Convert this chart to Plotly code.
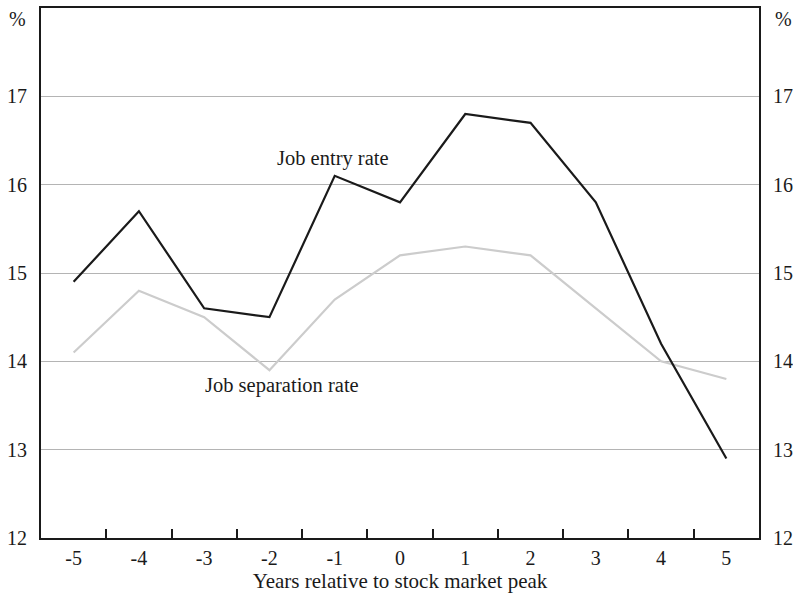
import plotly.graph_objects as go

years = ["-5", "-4", "-3", "-2", "-1", "0", "1", "2", "3", "4", "5"]
job_entry = [14.9, 15.7, 14.6, 14.5, 16.1, 15.8, 16.8, 16.7, 15.8, 14.2, 12.9]
job_separation = [14.1, 14.8, 14.5, 13.9, 14.7, 15.2, 15.3, 15.2, 14.6, 14.0, 13.8]
y_ticks = [12, 13, 14, 15, 16, 17]

FONT = "Liberation Serif, Times New Roman, serif"
FS = 20
fig = go.Figure()
fig.add_trace(go.Scatter(x=years, y=job_separation, mode="lines",
                         line=dict(color="#cccccc", width=2.2), showlegend=False))
fig.add_trace(go.Scatter(x=years, y=job_entry, mode="lines",
                         line=dict(color="#1a1a1a", width=2.2), showlegend=False))
# invisible trace to activate right axis
fig.add_trace(go.Scatter(x=years, y=job_entry, mode="lines", yaxis="y2",
                         line=dict(width=0), opacity=0, showlegend=False, hoverinfo="skip"))

fig.update_layout(
    width=793, height=593,
    margin=dict(l=41, r=34, t=8, b=55, autoexpand=False),
    paper_bgcolor="white", plot_bgcolor="white",
    font=dict(family=FONT, size=FS, color="#1a1a1a"),
    xaxis=dict(type="category", tickson="boundaries", ticks="inside", ticklen=9,
               tickwidth=1.5, tickcolor="#1a1a1a", showgrid=False, automargin=False,
               showline=True, linecolor="#1a1a1a", linewidth=2, mirror=True,
               range=[-0.5, 10.5], ticklabelstandoff=1,
               title=dict(text="Years relative to stock market peak", standoff=0,
                          font=dict(family=FONT, size=21))),
    yaxis=dict(range=[12, 18], tickvals=y_ticks, showgrid=True, gridcolor="#b4b4b4",
               gridwidth=1.2, showline=True, linecolor="#1a1a1a", linewidth=2,
               automargin=False, ticks="", ticklabelstandoff=8, zeroline=False),
    yaxis2=dict(range=[12, 18], tickvals=y_ticks, overlaying="y", side="right",
                showgrid=False, showline=True, linecolor="#1a1a1a", linewidth=2,
                automargin=False, ticks="", ticklabelstandoff=8, zeroline=False),
    annotations=[
        dict(text="%", xref="paper", yref="paper", x=-0.018, y=0.979, xanchor="right",
             yanchor="middle", showarrow=False, font=dict(family=FONT, size=FS)),
        dict(text="%", xref="paper", yref="paper", x=1.0195, y=0.979, xanchor="left",
             yanchor="middle", showarrow=False, font=dict(family=FONT, size=FS)),
        dict(text="Job entry rate", x=3.98, y=16.3, xref="x", yref="y", showarrow=False,
             font=dict(family=FONT, size=20.5)),
        dict(text="Job separation rate", x=3.19, y=13.73, xref="x", yref="y", showarrow=False,
             font=dict(family=FONT, size=20.5)),
    ],
)
fig.write_html("out.html", config={"displayModeBar": False},
               post_script="document.body.style.margin='0';document.body.style.overflow='hidden';")
